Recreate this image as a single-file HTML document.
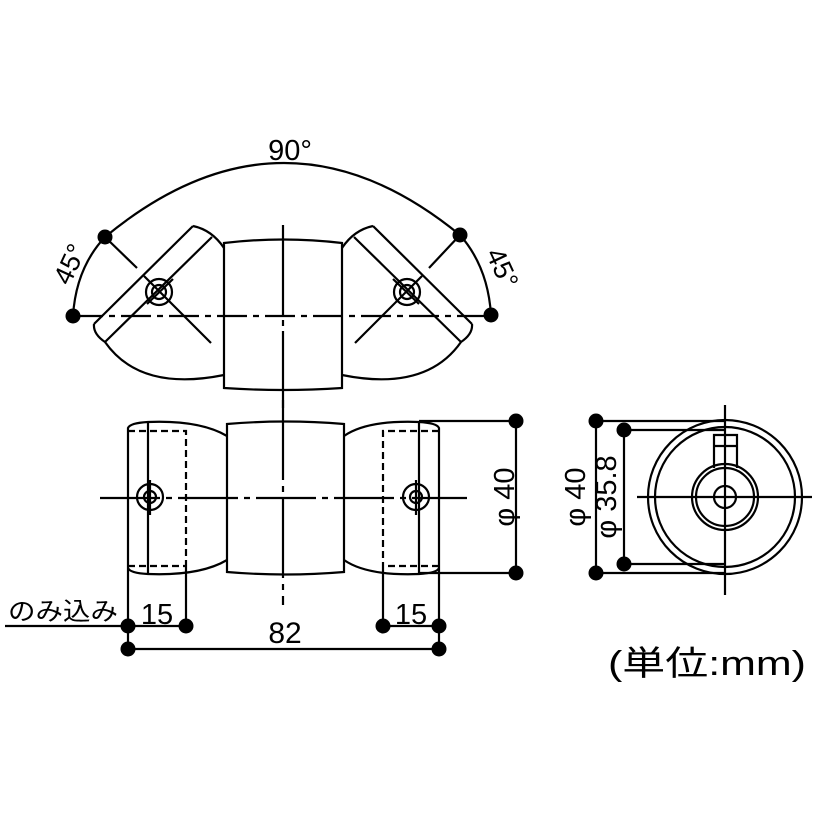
<!DOCTYPE html>
<html><head><meta charset="utf-8"><style>
html,body{margin:0;padding:0;background:#fff;}
svg{display:block}
text{font-family:"Liberation Sans","Noto Sans CJK JP",sans-serif;fill:#000}
</style></head><body>
<svg width="814" height="814" viewBox="0 0 814 814" xmlns="http://www.w3.org/2000/svg">
<g fill="none" stroke="#000" stroke-width="2.2">
<!-- TOP VIEW -->
<path d="M105,237 Q283,90 460,235"/>
<path d="M73,316 Q76,268 105,237"/>
<path d="M491,315 Q488,267 460,235"/>
<line x1="73" y1="316" x2="493" y2="316" stroke-dasharray="30,6,6,6"/>
<line x1="283" y1="225" x2="283" y2="408" stroke-dasharray="90,5,6,5"/>
<path d="M224,243 Q283,236 342,243 L342,388 Q283,392 224,388 Z"/>
<!-- left arm -->
<path d="M193,226 Q212,230 224,248"/>
<line x1="193" y1="226" x2="94" y2="324"/>
<line x1="212" y1="237" x2="105" y2="342"/>
<path d="M94,324 Q93,334 105,342 Q140,392 224,375"/>
<line x1="105" y1="237" x2="137" y2="268"/>
<line x1="144" y1="276" x2="211" y2="343"/>
<line x1="147" y1="304" x2="173" y2="279"/>
<circle cx="159" cy="292" r="13"/><circle cx="159" cy="292" r="7"/>
<!-- right arm -->
<path d="M373,226 Q354,230 342,248"/>
<line x1="373" y1="226" x2="472" y2="324"/>
<line x1="354" y1="237" x2="461" y2="342"/>
<path d="M472,324 Q473,334 461,342 Q426,392 342,375"/>
<line x1="460" y1="235" x2="429" y2="268"/>
<line x1="422" y1="276" x2="355" y2="343"/>
<line x1="419" y1="304" x2="393" y2="279"/>
<circle cx="407" cy="292" r="13"/><circle cx="407" cy="292" r="7"/>

<!-- FRONT VIEW -->
<line x1="283" y1="400" x2="283" y2="605" stroke-dasharray="80,6,6,6"/>
<line x1="100" y1="498" x2="467" y2="498" stroke-dasharray="60,6,6,6"/>
<path d="M227,424 Q285,419 344,424 L344,572 Q285,577 227,572 Z"/>
<path d="M128,573 L128,428 Q130,423 148,422 Q200,420 227,436"/>
<path d="M128,568 Q130,573 148,574 Q200,576 227,560"/>
<line x1="148" y1="422" x2="148" y2="574"/>
<path d="M128,431 L186,431 L186,566" stroke-dasharray="7,4"/>
<line x1="128" y1="566" x2="186" y2="566" stroke-dasharray="7,4"/>
<line x1="186" y1="566" x2="186" y2="626"/>
<circle cx="150" cy="497" r="13"/><circle cx="150" cy="497" r="6"/>
<line x1="150" y1="480" x2="150" y2="515"/>
<path d="M439,573 L439,428 Q437,423 419,422 Q367,420 344,436"/>
<path d="M439,568 Q437,573 419,574 Q367,576 344,560"/>
<line x1="419" y1="422" x2="419" y2="574"/>
<path d="M439,431 L383,431 L383,566" stroke-dasharray="7,4"/>
<line x1="439" y1="566" x2="383" y2="566" stroke-dasharray="7,4"/>
<line x1="383" y1="566" x2="383" y2="626"/>
<circle cx="416" cy="497" r="13"/><circle cx="416" cy="497" r="6"/>
<line x1="416" y1="480" x2="416" y2="515"/>
<line x1="419" y1="421" x2="516" y2="421"/>
<line x1="419" y1="573" x2="516" y2="573"/>
<line x1="516" y1="421" x2="516" y2="573"/>
<line x1="128" y1="573" x2="128" y2="649"/>
<line x1="439" y1="573" x2="439" y2="649"/>
<line x1="5" y1="626" x2="186" y2="626"/>
<line x1="383" y1="626" x2="439" y2="626"/>
<line x1="128" y1="649" x2="439" y2="649"/>

<!-- SIDE VIEW -->
<circle cx="725" cy="497" r="77"/>
<circle cx="725" cy="497" r="70"/>
<circle cx="725" cy="497" r="33"/>
<circle cx="725" cy="497" r="29"/>
<circle cx="725" cy="497" r="11"/>
<path d="M714,468 L714,435 L737,435 L737,468"/>
<line x1="714" y1="446" x2="737" y2="446"/>
<line x1="725" y1="405" x2="725" y2="595"/>
<line x1="637" y1="497" x2="812" y2="497"/>
<line x1="596" y1="421" x2="725" y2="421"/>
<line x1="596" y1="573" x2="725" y2="573"/>
<line x1="624" y1="430" x2="725" y2="430"/>
<line x1="624" y1="564" x2="725" y2="564"/>
<line x1="596" y1="421" x2="596" y2="573"/>
<line x1="624" y1="430" x2="624" y2="564"/>
</g>
<g fill="#000">
<circle cx="105" cy="237" r="7.5"/><circle cx="73" cy="316" r="7.5"/>
<circle cx="460" cy="235" r="7.5"/><circle cx="491" cy="315" r="7.5"/>
<circle cx="516" cy="421" r="7.5"/><circle cx="516" cy="573" r="7.5"/>
<circle cx="128" cy="626" r="7.5"/><circle cx="186" cy="626" r="7.5"/>
<circle cx="383" cy="626" r="7.5"/><circle cx="439" cy="626" r="7.5"/>
<circle cx="128" cy="649" r="7.5"/><circle cx="439" cy="649" r="7.5"/>
<circle cx="596" cy="421" r="7.5"/><circle cx="596" cy="573" r="7.5"/>
<circle cx="624" cy="430" r="7.5"/><circle cx="624" cy="564" r="7.5"/>
</g>
<text x="290" y="160" font-size="29" text-anchor="middle">90°</text>
<text transform="translate(78,268) rotate(-65)" font-size="27" text-anchor="middle">45°</text>
<text transform="translate(494,272) rotate(65)" font-size="27" text-anchor="middle">45°</text>
<text transform="translate(514,497) rotate(-90)" font-size="29" text-anchor="middle">φ 40</text>
<text x="157" y="624" font-size="29" text-anchor="middle">15</text>
<text x="411" y="624" font-size="29" text-anchor="middle">15</text>
<text x="285" y="643" font-size="30" text-anchor="middle">82</text>
<text x="8" y="620" font-size="25" textLength="110" lengthAdjust="spacingAndGlyphs">のみ込み</text>
<text transform="translate(585,497) rotate(-90)" font-size="29" text-anchor="middle">φ 40</text>
<text transform="translate(616,497) rotate(-90)" font-size="29" text-anchor="middle">φ 35.8</text>
<text x="608" y="675" font-size="34" textLength="198" lengthAdjust="spacingAndGlyphs">(単位:mm)</text>
</svg>
</body></html>
